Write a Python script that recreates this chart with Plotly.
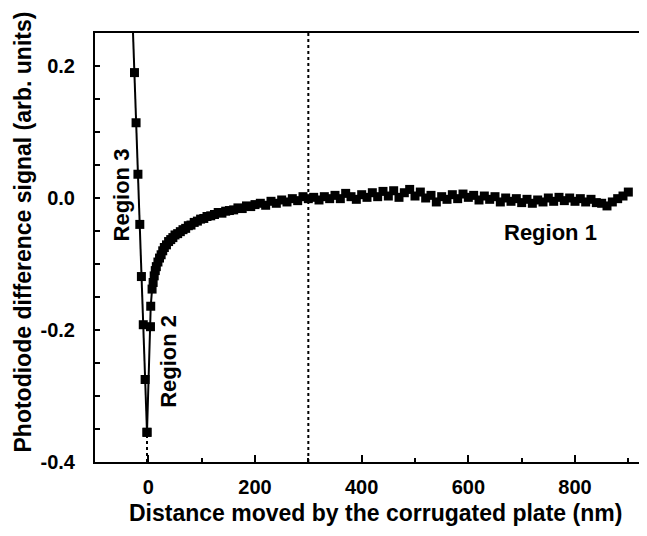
import numpy as np
import plotly.graph_objects as go

# ---------------- data ----------------
region3_x = [-26, -23, -19.5, -16, -13, -9.5, -6, -2.5]
region3_y = [0.190, 0.114, 0.036, -0.040, -0.119, -0.192, -0.275, -0.355]

curve_x = [-2.5, 4, 4.5, 7, 9, 11, 13, 15, 18, 21, 24, 27, 30, 34, 38, 42, 46, 50,
           55, 60, 65, 70, 75, 80, 86, 92, 98, 104, 110, 117, 124, 131, 138, 145,
           152, 160, 168, 176, 184, 192, 200, 210, 220, 230, 240, 250, 260, 270,
           280, 290, 300, 310, 320, 330, 340, 350, 360, 370, 380, 390, 400, 410,
           420, 430, 440, 450, 460, 470, 480, 490, 500, 510, 520, 530, 540, 550,
           560, 570, 580, 590, 600, 610, 620, 630, 640, 650, 660, 670, 680, 690,
           700, 710, 720, 730, 740, 750, 760, 770, 780, 790, 800, 810, 820, 830,
           840, 850, 860, 870, 880, 890, 900]
curve_y = [-0.355, -0.195, -0.164, -0.138, -0.128, -0.118, -0.110, -0.104, -0.097,
           -0.091, -0.086, -0.080, -0.075, -0.071, -0.066, -0.063, -0.060, -0.056,
           -0.054, -0.051, -0.048, -0.046, -0.042, -0.041, -0.037, -0.035, -0.032,
           -0.031, -0.028, -0.027, -0.025, -0.022, -0.023, -0.020, -0.019, -0.018,
           -0.015, -0.016, -0.012, -0.013, -0.010, -0.008, -0.011, -0.005, -0.008,
           -0.003, -0.006, -0.001, -0.004, 0.002, -0.001, 0.001, -0.003, 0.002,
           -0.001, 0.004, -0.001, 0.007, 0.002, -0.002, 0.005, 0.001, 0.008, 0.002,
           0.010, 0.003, 0.011, 0.001, 0.008, 0.013, 0.003, 0.009, 0.000, 0.004,
           -0.006, 0.002, -0.002, 0.005, -0.001, 0.006, 0.001, 0.004, -0.003, 0.003,
           -0.002, 0.002, -0.006, 0.000, -0.005, -0.001, -0.007, -0.002, -0.008,
           -0.003, -0.006, 0.000, -0.005, 0.001, -0.004, 0.000, -0.005, -0.001,
           -0.006, -0.002, -0.007, -0.008, -0.012, -0.006, -0.001, 0.003, 0.009]

x_tickvals = [0, 200, 400, 600, 800]
x_ticktext = ["0", "200", "400", "600", "800"]
y_tickvals = [-0.4, -0.2, 0.0, 0.2]
y_ticktext = ["-0.4", "-0.2", "0.0", "0.2"]

x_title = "Distance moved by the corrugated plate (nm)"
y_title = "Photodiode difference signal (arb. units)"

boundary_x = 300          # dotted line separating regions 1 and 2
x_range = [-100, 920]
y_range = [-0.4, 0.25]

# ---------------- figure ----------------
FONT = "Liberation Sans, Arial, sans-serif"

# linear fit of region 3, drawn from above the top of the plot to the minimum
a, b = np.polyfit(region3_x, region3_y, 1)
y_top = y_range[1] + 0.02
fit_x = [(y_top - b) / a, region3_x[-1]]
fit_y = [y_top, region3_y[-1]]

fig = go.Figure()
fig.add_trace(go.Scatter(x=fit_x, y=fit_y, mode="lines",
                         line=dict(color="black", width=2), showlegend=False,
                         hoverinfo="skip"))
fig.add_trace(go.Scatter(x=region3_x, y=region3_y, mode="markers",
                         marker=dict(symbol="square", size=9, color="black"),
                         showlegend=False))
fig.add_trace(go.Scatter(x=curve_x, y=curve_y, mode="lines+markers",
                         line=dict(color="black", width=2),
                         marker=dict(symbol="square", size=9, color="black"),
                         showlegend=False))

# dotted guide lines
fig.add_shape(type="line", x0=boundary_x, x1=boundary_x, y0=y_range[0], y1=y_range[1],
              line=dict(color="black", width=2, dash="dot"))
fig.add_shape(type="line", x0=region3_x[-1], x1=region3_x[-1], y0=y_range[0],
              y1=region3_y[-1], line=dict(color="black", width=2, dash="dot"))

ann_font = dict(family=FONT, size=22, color="black", weight="bold")
fig.add_annotation(x=754, y=-0.052, text="Region 1", showarrow=False, font=ann_font)
fig.add_annotation(x=39, y=-0.248, text="Region 2", showarrow=False, font=ann_font,
                   textangle=-90)
fig.add_annotation(x=-51, y=0.004, text="Region 3", showarrow=False, font=ann_font,
                   textangle=-90)

# axis titles
title_font = dict(family=FONT, size=23, color="black", weight="bold")
fig.add_annotation(xref="paper", yref="paper", x=0.515, y=0, yshift=-51,
                   xanchor="center", yanchor="middle", text=x_title,
                   showarrow=False, font=title_font)
fig.add_annotation(xref="paper", yref="paper", x=0, xshift=-72, y=0.535,
                   xanchor="center", yanchor="middle", text=y_title, textangle=-90,
                   showarrow=False, font=title_font)

axis_font = dict(family=FONT, size=20, color="black", weight="bold")

fig.update_xaxes(range=x_range, showline=True, linecolor="black", linewidth=2,
                 mirror=True, showgrid=False, zeroline=False, automargin=False,
                 tickmode="array", tickvals=x_tickvals, ticktext=x_ticktext,
                 ticks="inside", ticklen=7, tickwidth=2, tickcolor="black",
                 minor=dict(ticks="inside", dtick=100, tick0=0, ticklen=4,
                            tickwidth=2, tickcolor="black", showgrid=False),
                 tickfont=axis_font, ticklabelstandoff=6)
fig.update_yaxes(range=y_range, showline=True, linecolor="black", linewidth=2,
                 showgrid=False, zeroline=False, automargin=False,
                 tickmode="array", tickvals=y_tickvals, ticktext=y_ticktext,
                 ticks="inside", ticklen=5, tickwidth=2, tickcolor="black",
                 minor=dict(ticks="inside", dtick=0.05, tick0=0, ticklen=5,
                            tickwidth=2, tickcolor="black", showgrid=False),
                 tickfont=axis_font, ticklabelstandoff=14)

fig.update_layout(width=631, height=520, plot_bgcolor="white", paper_bgcolor="white",
                  margin=dict(l=87, r=0, t=25, b=66, autoexpand=False),
                  showlegend=False)

fig.write_html("out.html")
